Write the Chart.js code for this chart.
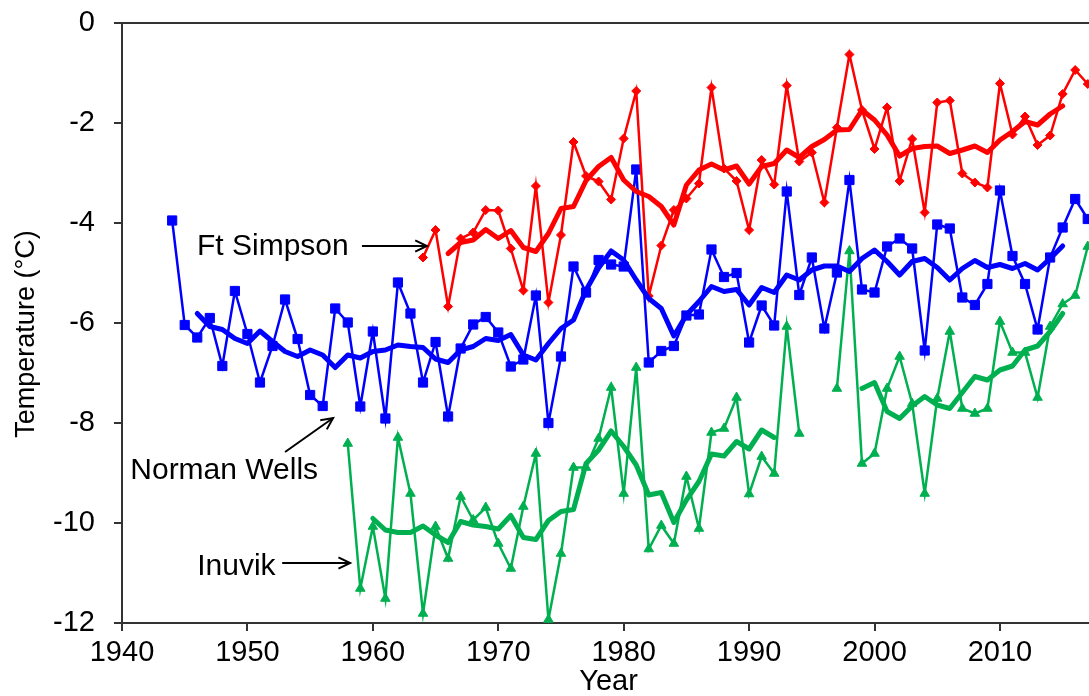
<!DOCTYPE html>
<html>
<head>
<meta charset="utf-8">
<script src="https://cdn.jsdelivr.net/npm/chart.js@4/dist/chart.umd.min.js"></script>
<style>html,body{margin:0;padding:0;background:#fff;overflow:hidden}</style>
</head>
<body>
<canvas id="c" width="1089" height="696" style="display:block;width:1089px;height:696px"></canvas>
<script>
// ---------- DATA ----------
const years = [1944,1945,1946,1947,1948,1949,1950,1951,1952,1953,1954,1955,1956,1957,1958,1959,
  1960,1961,1962,1963,1964,1965,1966,1967,1968,1969,1970,1971,1972,1973,1974,1975,1976,1977,1978,1979,
  1980,1981,1982,1983,1984,1985,1986,1987,1988,1989,1990,1991,1992,1993,1994,1995,1996,1997,1998,1999,
  2000,2001,2002,2003,2004,2005,2006,2007,2008,2009,2010,2011,2012,2013,2014,2015,2016,2017];

// Norman Wells annual mean temperature (°C)
const normanWells = [-3.95,-6.04,-6.29,-5.90,-6.86,-5.36,-6.22,-7.19,-6.46,-5.53,-6.32,-7.44,-7.66,-5.71,-5.99,-7.67,
  -6.17,-7.91,-5.19,-5.81,-7.19,-6.38,-7.87,-6.51,-6.03,-5.88,-6.19,-6.87,-6.73,-5.45,-8.00,-6.67,-4.87,-5.39,-4.74,-4.83,
  -4.87,-2.93,-6.79,-6.56,-6.46,-5.85,-5.83,-4.53,-5.08,-5.00,-6.39,-5.65,-6.05,-3.37,-5.44,-4.69,-6.11,-4.99,-3.14,-5.33,
  -5.39,-4.47,-4.31,-4.51,-6.55,-4.03,-4.11,-5.49,-5.64,-5.22,-3.35,-4.66,-5.22,-6.13,-4.69,-4.09,-3.52,-3.92];
// Norman Wells smoothed
const normanWellsSmooth = [null,null,-5.81,-6.07,-6.13,-6.31,-6.41,-6.16,-6.37,-6.57,-6.67,-6.54,-6.64,-6.89,-6.64,-6.70,
  -6.57,-6.54,-6.44,-6.47,-6.49,-6.72,-6.79,-6.54,-6.47,-6.31,-6.35,-6.23,-6.64,-6.74,-6.41,-6.11,-5.94,-5.34,-4.90,-4.56,
  -4.74,-5.14,-5.51,-5.71,-6.26,-5.84,-5.57,-5.27,-5.37,-5.33,-5.64,-5.29,-5.39,-5.04,-5.14,-4.94,-4.86,-4.86,-4.97,-4.71,
  -4.54,-4.77,-5.04,-4.77,-4.71,-4.89,-5.14,-4.91,-4.75,-4.89,-4.83,-4.91,-4.81,-4.94,-4.71,-4.46,null,null];

// Ft Simpson annual mean temperature (°C)
const ftSimpson = [null,null,null,null,null,null,null,null,null,null,null,null,null,null,null,null,
  null,null,null,null,-4.69,-4.14,-5.67,-4.31,-4.19,-3.74,-3.75,-4.51,-5.35,-3.26,-5.59,-4.24,-2.38,-3.06,-3.17,-3.53,
  -2.31,-1.36,-5.46,-4.45,-3.74,-3.51,-3.21,-1.29,-2.91,-3.16,-4.14,-2.74,-3.23,-1.25,-2.77,-2.59,-3.59,-2.09,-0.63,-1.74,
  -2.52,-1.69,-3.16,-2.32,-3.79,-1.59,-1.55,-3.01,-3.19,-3.29,-1.21,-2.23,-1.87,-2.44,-2.25,-1.42,-0.94,-1.22];
// Ft Simpson smoothed
const ftSimpsonSmooth = [null,null,null,null,null,null,null,null,null,null,null,null,null,null,null,null,
  null,null,null,null,null,null,-4.61,-4.39,-4.34,-4.13,-4.31,-4.15,-4.49,-4.57,-4.21,-3.71,-3.67,-3.15,-2.87,-2.69,
  -3.14,-3.37,-3.47,-3.67,-4.04,-3.24,-2.94,-2.82,-2.94,-2.86,-3.22,-2.87,-2.81,-2.54,-2.69,-2.47,-2.33,-2.14,-2.13,-1.74,
  -1.94,-2.24,-2.66,-2.51,-2.47,-2.46,-2.61,-2.54,-2.46,-2.59,-2.34,-2.17,-1.97,-2.04,-1.82,-1.66,null,null];

// Inuvik annual mean temperature (°C)
const inuvik = [null,null,null,null,null,null,null,null,null,null,null,null,null,null,-8.41,-11.31,
  -10.07,-11.51,-8.29,-9.41,-11.81,-10.07,-10.71,-9.47,-9.94,-9.69,-10.41,-10.91,-9.67,-8.61,-11.93,-10.61,-8.89,-8.89,-8.31,-7.29,
  -9.41,-6.89,-10.52,-10.05,-10.41,-9.07,-10.11,-8.19,-8.11,-7.49,-9.42,-8.67,-9.01,-6.07,-8.21,null,null,-7.31,-4.56,-8.81,
  -8.61,-7.31,-6.67,-7.61,-9.41,-7.51,-6.17,-7.71,-7.81,-7.71,-5.97,-6.59,-6.59,-7.49,-6.07,-5.62,-5.45,-4.47];
// Inuvik smoothed
const inuvikSmooth = [null,null,null,null,null,null,null,null,null,null,null,null,null,null,null,null,
  -9.91,-10.14,-10.19,-10.19,-10.06,-10.24,-10.39,-9.97,-10.04,-10.07,-10.12,-9.85,-10.29,-10.33,-9.95,-9.77,-9.73,-8.81,-8.54,-8.16,
  -8.47,-8.84,-9.44,-9.39,-9.99,-9.54,-9.17,-8.62,-8.66,-8.37,-8.52,-8.14,-8.29,null,null,null,null,null,null,-7.31,
  -7.19,-7.77,-7.91,-7.66,-7.47,-7.64,-7.71,-7.39,-7.07,-7.14,-6.94,-6.86,-6.54,-6.46,-6.17,-5.81,null,null];

const xTickValues = [1940,1950,1960,1970,1980,1990,2000,2010];
const yTickValues = [0,-2,-4,-6,-8,-10,-12];

// Station labels (data coordinates) and arrows
const notes = [
  {text:'Ft Simpson',   x:1945.98, y:-4.63},
  {text:'Norman Wells', x:1940.66, y:-9.12},
  {text:'Inuvik',       x:1946.0,  y:-11.04}
];
const arrows = [
  {x1:1959.13, y1:-4.46, x2:1964.31, y2:-4.46},
  {x1:1953.0,  y1:-8.58, x2:1956.83, y2:-7.90},
  {x1:1952.77, y1:-10.80, x2:1958.19, y2:-10.80}
];

// ---------- CHART ----------
const FONT = '"Liberation Sans", Arial, Helvetica, sans-serif';
const RED = '#FF0000', BLUE = '#0000FF', GREEN = '#00B050';
const pts = arr => years.map((yr, i) => ({x: yr, y: arr[i]}));

const thin = (label, arr, color, style, radius) => ({
  label, data: pts(arr), borderColor: color, backgroundColor: color,
  borderWidth: 2.5, pointStyle: style, pointRadius: radius, pointBorderWidth: 1,
  pointBackgroundColor: color, pointBorderColor: color, spanGaps: false, tension: 0
});
const thick = (label, arr, color) => ({
  label, data: pts(arr), borderColor: color, backgroundColor: color,
  borderWidth: 5, pointRadius: 0, spanGaps: false, tension: 0,
  borderJoinStyle: 'round', borderCapStyle: 'round'
});

const overlay = {
  id: 'overlay',
  afterDraw(chart) {
    const {ctx, chartArea: a, scales: {x, y}} = chart;
    ctx.save();
    // top frame line
    ctx.strokeStyle = '#333'; ctx.lineWidth = 2;
    ctx.beginPath(); ctx.moveTo(a.left - 1, a.top); ctx.lineTo(a.right, a.top); ctx.stroke();
    // station labels
    ctx.fillStyle = '#000';
    ctx.font = '30px ' + FONT;
    ctx.textAlign = 'left'; ctx.textBaseline = 'alphabetic';
    notes.forEach(n => ctx.fillText(n.text, x.getPixelForValue(n.x), y.getPixelForValue(n.y)));
    // arrows
    ctx.strokeStyle = '#000'; ctx.lineWidth = 2;
    arrows.forEach(r => {
      const x1 = x.getPixelForValue(r.x1), y1 = y.getPixelForValue(r.y1);
      const x2 = x.getPixelForValue(r.x2), y2 = y.getPixelForValue(r.y2);
      const ang = Math.atan2(y2 - y1, x2 - x1), L = 13, s = 0.45;
      ctx.beginPath(); ctx.moveTo(x1, y1); ctx.lineTo(x2, y2); ctx.stroke();
      ctx.beginPath();
      ctx.moveTo(x2 - L * Math.cos(ang - s), y2 - L * Math.sin(ang - s));
      ctx.lineTo(x2, y2);
      ctx.lineTo(x2 - L * Math.cos(ang + s), y2 - L * Math.sin(ang + s));
      ctx.stroke();
    });
    // axis titles
    ctx.fillStyle = '#000';
    ctx.font = '29px ' + FONT;
    ctx.textAlign = 'center'; ctx.textBaseline = 'top';
    ctx.fillText('Year', (a.left + a.right) / 2 + 3, 667);
    ctx.translate(27, 334); ctx.rotate(-Math.PI / 2);
    ctx.font = '27px ' + FONT;
    ctx.textBaseline = 'middle';
    ctx.fillText('Temperature (°C)', 0, 0);
    ctx.restore();
  }
};

new Chart(document.getElementById('c'), {
  type: 'line',
  data: {
    datasets: [
      thick('Ft Simpson smoothed', ftSimpsonSmooth, RED),
      thick('Norman Wells smoothed', normanWellsSmooth, BLUE),
      thick('Inuvik smoothed', inuvikSmooth, GREEN),
      thin('Ft Simpson', ftSimpson, RED, 'rectRot', 4.5),
      thin('Norman Wells', normanWells, BLUE, 'rect', 6.5),
      thin('Inuvik', inuvik, GREEN, 'triangle', 5.5)
    ]
  },
  options: {
    responsive: false,
    animation: false,
    devicePixelRatio: 1,
    layout: {autoPadding: false, padding: {top: 23, right: 0, left: 0, bottom: 0}},
    plugins: {legend: {display: false}, tooltip: {enabled: false}},
    elements: {line: {fill: false}},
    scales: {
      x: {
        type: 'linear', min: 1940, max: 2017.1,
        afterBuildTicks: s => { s.ticks = xTickValues.map(v => ({value: v})); },
        afterFit: s => { s.height = 73; s.paddingLeft = 0; s.paddingRight = 0; s.paddingTop = 0; s.paddingBottom = 0; },
        grid: {display: true, drawOnChartArea: false, drawTicks: true, tickLength: 8, color: '#333', lineWidth: 2},
        border: {display: true, color: '#333', width: 2},
        ticks: {color: '#000', font: {family: FONT, size: 29}, padding: 5, maxRotation: 0, autoSkip: false,
                callback: v => String(v)}
      },
      y: {
        type: 'linear', min: -12, max: 0,
        afterBuildTicks: s => { s.ticks = yTickValues.map(v => ({value: v})); },
        afterFit: s => { s.width = 122; s.paddingLeft = 0; s.paddingRight = 0; s.paddingTop = 0; s.paddingBottom = 0; },
        grid: {display: true, drawOnChartArea: false, drawTicks: true, tickLength: 8, color: '#333', lineWidth: 2},
        border: {display: true, color: '#333', width: 2},
        ticks: {color: '#000', font: {family: FONT, size: 29}, padding: 19, callback: v => String(v)}
      }
    }
  },
  plugins: [overlay]
});
</script>
</body>
</html>
